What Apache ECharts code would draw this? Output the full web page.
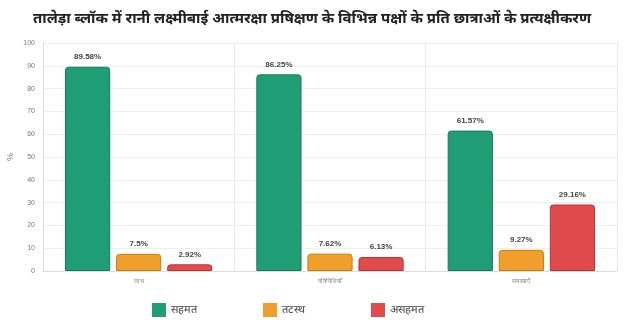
<!DOCTYPE html>
<html><head><meta charset="utf-8">
<script src="https://cdn.jsdelivr.net/npm/echarts@6/dist/echarts.min.js"></script>
<style>html,body{margin:0;padding:0;background:#fff}#c{width:624px;height:327px}</style>
</head><body><div id="c"></div>
<script>
const title = 'तालेड़ा ब्लॉक में रानी लक्ष्मीबाई आत्मरक्षा प्रषिक्षण के विभिन्न पक्षों के प्रति छात्राओं के प्रत्यक्षीकरण';
const categories = ['लाभ', 'गतिविधियाँ', 'समस्याएँ'];
const seriesNames = ['सहमत', 'तटस्थ', 'असहमत'];
const agree = [89.58, 86.25, 61.57];
const neutral = [7.5, 7.62, 9.27];
const disagree = [2.92, 6.13, 29.16];
const yTicks = [0, 10, 20, 30, 40, 50, 60, 70, 80, 90, 100];

const colors = ['#1f9e76', '#f09f2a', '#e24b4b'];
const borders = ['#167a5a', '#c67d12', '#b83232'];
const values = [agree, neutral, disagree];

const chart = echarts.init(document.getElementById('c'));
chart.setOption({
  animation: false,
  title: {
    text: title, left: 'center', top: 6,
    textStyle: { fontSize: 15, fontWeight: 'bold', color: '#222', fontFamily: 'Noto Sans, sans-serif' }
  },
  legend: {
    bottom: 5, left: 147, itemWidth: 14, itemHeight: 14, itemGap: 66, icon: 'rect',
    data: seriesNames,
    itemStyle: { borderWidth: 0 },
    textStyle: { fontSize: 11, color: '#444' }
  },
  grid: { left: 43, right: 7, top: 43, bottom: 56, containLabel: false, outerBoundsMode: 'none' },
  xAxis: {
    type: 'category', data: categories,
    axisLine: { show: true, lineStyle: { color: '#ddd' } },
    axisTick: { show: false },
    axisLabel: { fontSize: 6, color: '#888', margin: 7 },
    splitLine: { show: true, lineStyle: { color: '#e6e6e6' } }
  },
  yAxis: {
    type: 'value', min: yTicks[0], max: yTicks[yTicks.length - 1], interval: 10,
    name: '%', nameLocation: 'middle', nameGap: 28, nameRotate: 90, nameMoveOverlap: false,
    nameTextStyle: { fontSize: 9, color: '#777' },
    axisLine: { show: true, lineStyle: { color: '#ddd' } },
    axisTick: { show: false },
    axisLabel: { fontSize: 7, color: '#777', margin: 8 },
    splitLine: { lineStyle: { color: '#eee' } }
  },
  series: seriesNames.map((n, i) => ({
    name: n, type: 'bar', data: values[i],
    barGap: '13%', barCategoryGap: '23%',
    itemStyle: { color: colors[i], borderColor: borders[i], borderWidth: 1, borderRadius: [3, 3, 0, 0] },
    label: { show: true, position: 'top', distance: 6, formatter: p => p.value + '%', fontSize: 8, fontWeight: 'bold', color: '#444' }
  }))
});
</script></body></html>
